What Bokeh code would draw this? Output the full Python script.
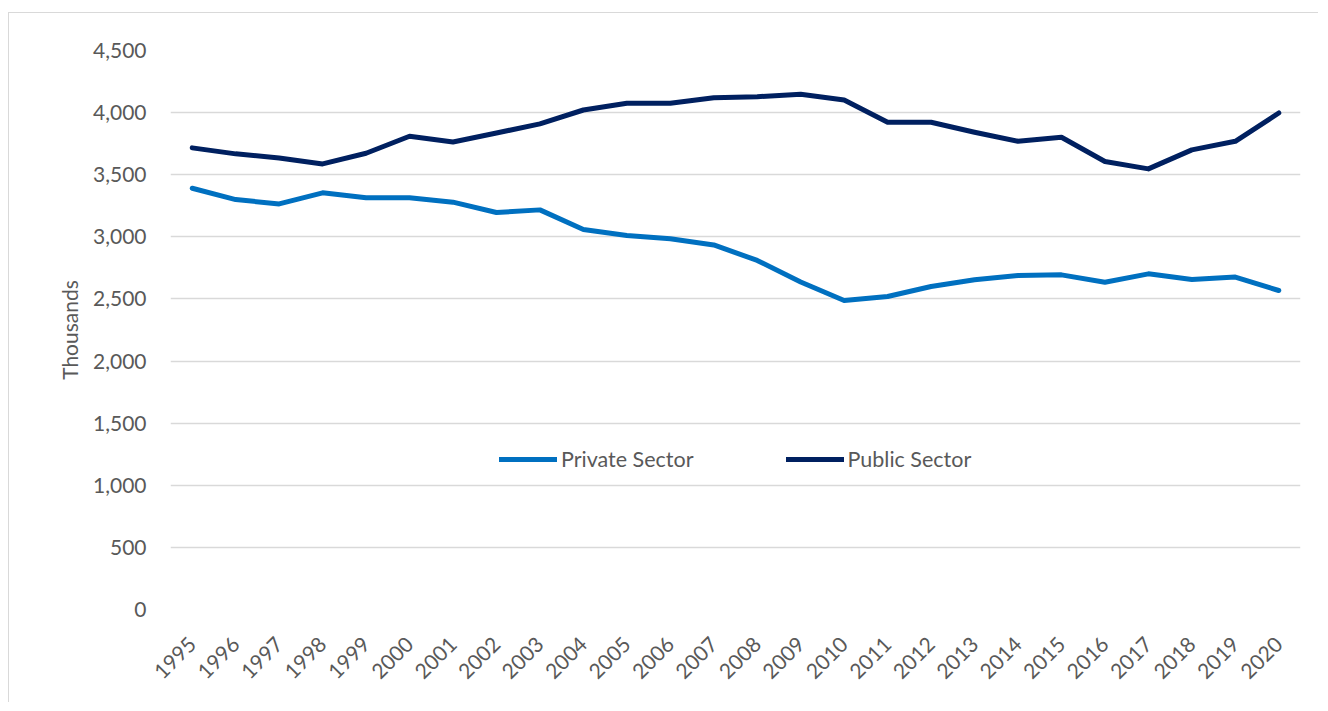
from bokeh.plotting import figure
from bokeh.models import (FactorRange, Range1d, FixedTicker, NumeralTickFormatter,
                          Legend, LegendItem, ColumnDataSource)
from bokeh.embed import file_html
from bokeh.resources import INLINE
import math

years = [str(y) for y in range(1995, 2021)]
private_sector = [3391, 3300, 3265, 3354, 3314, 3314, 3279, 3196, 3217, 3059,
                  3011, 2984, 2935, 2810, 2636, 2488, 2520, 2600, 2654, 2689,
                  2694, 2635, 2702, 2657, 2676, 2568]
public_sector = [3716, 3668, 3635, 3587, 3673, 3810, 3764, 3836, 3909, 4021,
                 4075, 4075, 4120, 4128, 4148, 4102, 3922, 3922, 3842, 3769,
                 3802, 3606, 3547, 3700, 3769, 3997]
y_ticks = [0, 500, 1000, 1500, 2000, 2500, 3000, 3500, 4000, 4500]

FONT = "Lato"
TXT = "#595959"

src = ColumnDataSource(dict(year=years, private=private_sector, public=public_sector))

p = figure(x_range=FactorRange(factors=years, range_padding=0),
           y_range=Range1d(0, 4500),
           width=1310, height=690, output_backend="svg", toolbar_location=None,
           min_border_left=161, min_border_right=19, min_border_top=37, min_border_bottom=94)
p.margin = (12, 0, 0, 8)
p.styles = {"border-left": "1px solid #d9d9d9", "border-top": "1px solid #d9d9d9"}
p.outline_line_color = None

r_priv = p.line("year", "private", source=src, line_color="#0070C0", line_width=5,
                line_join="round", line_cap="round")
r_pub = p.line("year", "public", source=src, line_color="#002060", line_width=5,
               line_join="round", line_cap="round")

p.xgrid.grid_line_color = None
p.ygrid.grid_line_color = "#d9d9d9"
p.ygrid.grid_line_width = 1.5
p.yaxis.ticker = FixedTicker(ticks=y_ticks)
p.yaxis.formatter = NumeralTickFormatter(format="0,0")

for ax in (p.xaxis[0], p.yaxis[0]):
    ax.axis_line_color = None
    ax.major_tick_line_color = None
    ax.minor_tick_line_color = None
    ax.major_label_text_font = FONT
    ax.major_label_text_color = TXT
    ax.major_label_text_font_size = "21px"

p.yaxis.major_label_standoff = 18
p.yaxis.axis_label = "Thousands"
p.yaxis.axis_label_text_font = FONT
p.yaxis.axis_label_text_font_style = "normal"
p.yaxis.axis_label_text_color = TXT
p.yaxis.axis_label_text_font_size = "21px"
p.yaxis.axis_label_standoff = 8

p.xaxis.major_label_orientation = math.pi / 4
p.xaxis.major_label_standoff = 25
p.xaxis.group_text_font_size = "0px"

legend = Legend(items=[LegendItem(label="Private Sector", renderers=[r_priv]),
                       LegendItem(label="Public Sector", renderers=[r_pub])],
                orientation="horizontal", location=(329, 137),
                label_text_font=FONT, label_text_color=TXT, label_text_font_size="21.5px",
                glyph_width=58, glyph_height=20, label_standoff=4, spacing=92,
                padding=0, margin=0, border_line_color=None, background_fill_alpha=0)
p.add_layout(legend, "center")

open("out.html", "w").write(file_html(p, INLINE))
